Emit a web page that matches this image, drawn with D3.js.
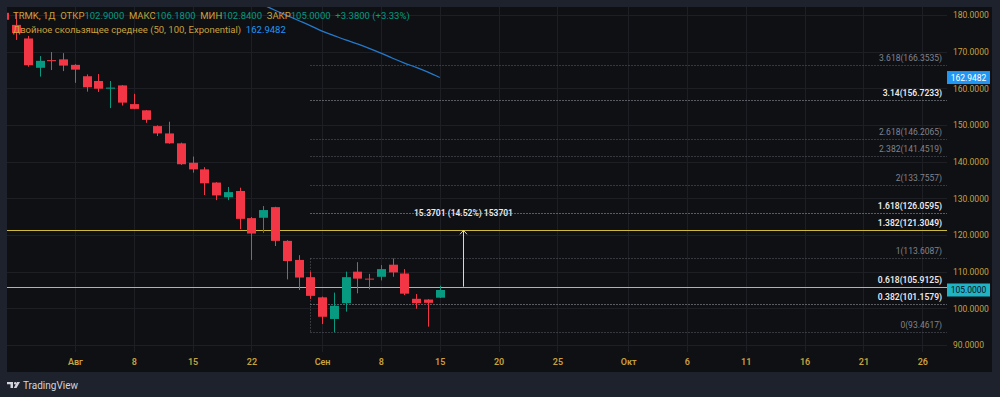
<!DOCTYPE html>
<meta charset="utf-8">
<style>
body { margin: 0; background: #1e222d; }
svg { display: block; }
text { font-family: Roboto, "Liberation Sans", sans-serif; }
</style>
<svg width="1000" height="397"></svg>
<script src="https://d3js.org/d3.v7.min.js"></script>
<script>

// daily candles, TRMK
var dates = ["2025-07-24","2025-07-25","2025-07-28","2025-07-29","2025-07-30","2025-07-31",
  "2025-08-01","2025-08-04","2025-08-05","2025-08-06","2025-08-07","2025-08-08",
  "2025-08-11","2025-08-12","2025-08-13","2025-08-14","2025-08-15",
  "2025-08-18","2025-08-19","2025-08-20","2025-08-21","2025-08-22",
  "2025-08-25","2025-08-26","2025-08-27","2025-08-28","2025-08-29",
  "2025-09-01","2025-09-02","2025-09-03","2025-09-04","2025-09-05",
  "2025-09-08","2025-09-09","2025-09-10","2025-09-11","2025-09-12","2025-09-15"];
var open  = [180.6,177.3,173.6,165.6,167.7,167.9,166.4,163.3,162.0,159.9,160.8,155.7,154.0,149.7,147.7,145.0,139.7,137.9,134.3,130.3,132.0,124.6,124.7,127.6,118.4,113.2,108.5,103.0,97.1,101.4,110.0,108.1,108.6,111.9,109.5,102.6,102.4,102.9];
var high  = [181.5,180.5,174.3,168.8,169.9,169.6,166.6,163.8,163.9,162.0,160.9,158.5,154.1,149.9,150.9,145.2,141.4,138.5,134.4,133.1,132.9,124.9,127.9,127.7,118.6,114.5,110.0,103.2,104.3,110.0,112.6,109.4,111.8,113.6087,110.7,103.9,102.5,106.18];
var low   = [178.2,173.2,165.9,163.2,165.0,164.7,161.5,159.1,159.0,154.6,155.3,154.3,150.6,147.0,144.9,139.1,137.0,130.9,129.5,129.5,121.6,113.2,120.6,117.0,107.9,105.0,102.6,95.7,93.4617,99.1,104.1,105.2,107.6,108.6,103.6,99.9,95.0,102.84];
var close = [178.7,175.1,166.3,167.5,167.4,166.2,165.1,160.3,159.9,160.2,156.1,154.4,151.4,147.7,145.0,139.3,137.9,134.1,130.8,131.7,124.4,120.4,126.8,118.4,112.9,108.4,103.4,97.7,100.7,108.5,108.1,107.9,110.7,109.8,104.0,101.4,101.5,105.0];

// double EMA (50, 100)
var demaDates = ["2025-08-22","2025-08-25","2025-08-26","2025-08-27","2025-08-28","2025-08-29",
  "2025-09-01","2025-09-02","2025-09-03","2025-09-04","2025-09-05",
  "2025-09-08","2025-09-09","2025-09-10","2025-09-11","2025-09-12","2025-09-15"];
var demaValues = [184.3,182.8,181.3,179.9,178.5,177.1,175.6,174.4,173.2,172.1,170.9,169.6,168.2,166.9,165.7,164.4,162.9482];

// fibonacci extension
var fibLevels = ["0","0.382","0.618","1","1.382","1.618","2","2.382","2.618","3.14","3.618"];
var fibPrices = [93.4617,101.1579,105.9125,113.6087,121.3049,126.0595,133.7557,141.4519,146.2065,156.7233,166.3535];
var fibBright = [false,true,true,false,true,true,false,false,false,true,false];
var fibStart = "2025-08-29";

// horizontal lines + price range
var hLines = [121.3049, 105.9125];
var rangeDate = "2025-09-17";
var rangeFrom = 105.9125, rangeTo = 121.2826;
var rangeText = "15.3701 (14.52%) 153701";

var yTicks = [90,100,110,120,130,140,150,160,170,180];
var xTickDates = ["2025-08-01","2025-08-08","2025-08-15","2025-08-22","2025-09-01","2025-09-08","2025-09-15",
  "2025-09-20","2025-09-25","2025-10-01","2025-10-06","2025-10-11","2025-10-16","2025-10-21","2025-10-26"];
var xTickLabels = ["Авг","8","15","22","Сен","8","15","20","25","Окт","6","11","16","21","26"];

var svg = d3.select("svg");
var plotL = 7, plotR = 947, plotT = 7, plotB = 352, panelR = 992, panelB = 372;

// bar slots: trading days so far, then calendar days ahead
var fmt = d3.timeFormat("%Y-%m-%d");
var future = d3.timeDay.range(new Date(2025, 8, 16), new Date(2025, 9, 30)).map(fmt);
var slots = dates.concat(future);
var slotIndex = {};
slots.forEach(function(d, i) { slotIndex[d] = i; });

var x = d3.scaleLinear().domain([0.23, 80.1]).range([plotL, plotR]);
var xd = function(d) { return x(slotIndex[d]); };
var y = d3.scaleLinear().domain([90, 180]).range([345, 15]);

var C_UP = "#089981", C_DN = "#f23645", GOLD = "#c9a13d", GRID = "#1d1f25";

svg.append("rect").attr("width", 1000).attr("height", 397).attr("fill", "#1e222d");
svg.append("rect").attr("x", plotL).attr("y", plotT)
    .attr("width", panelR - plotL).attr("height", panelB - plotT).attr("fill", "#0f1014");

svg.append("clipPath").attr("id", "clip").append("rect")
    .attr("x", plotL).attr("y", plotT).attr("width", plotR - plotL).attr("height", plotB - plotT);

// grid
var grid = svg.append("g");
grid.selectAll(".gy").data(yTicks).enter().append("line")
    .attr("x1", plotL).attr("x2", plotR)
    .attr("y1", function(d) { return Math.round(y(d)) + 0.5; })
    .attr("y2", function(d) { return Math.round(y(d)) + 0.5; })
    .attr("stroke", GRID);
grid.selectAll(".gx").data(xTickDates).enter().append("line")
    .attr("y1", plotT).attr("y2", plotB)
    .attr("x1", function(d) { return Math.round(xd(d)) + 0.5; })
    .attr("x2", function(d) { return Math.round(xd(d)) + 0.5; })
    .attr("stroke", GRID);

var plot = svg.append("g").attr("clip-path", "url(#clip)");

// fib lines
var fx0 = Math.round(xd(fibStart)) + 0.5;
plot.append("line")
    .attr("x1", fx0).attr("x2", fx0)
    .attr("y1", y(fibPrices[3])).attr("y2", y(fibPrices[0]))
    .attr("stroke", "#5d6069").attr("stroke-dasharray", "1,2");
plot.selectAll(".fib").data(fibPrices).enter().append("line")
    .attr("x1", fx0).attr("x2", plotR)
    .attr("y1", function(d) { return Math.round(y(d)) + 0.5; })
    .attr("y2", function(d) { return Math.round(y(d)) + 0.5; })
    .attr("stroke", function(d, i) { return fibBright[i] ? "#a4a7b0" : "#5d6069"; })
    .attr("stroke-dasharray", "1,2");

// yellow horizontal lines
plot.selectAll(".hl").data(hLines).enter().append("line")
    .attr("x1", plotL).attr("x2", plotR)
    .attr("y1", function(d) { return Math.round(y(d)) + 0.5; })
    .attr("y2", function(d) { return Math.round(y(d)) + 0.5; })
    .attr("stroke", "#cdb93c").attr("stroke-width", 1.2);

// dema
var line = d3.line()
    .x(function(d, i) { return xd(demaDates[i]); })
    .y(function(d) { return y(d); })
    .curve(d3.curveMonotoneX);
plot.append("path").datum(demaValues)
    .attr("d", line).attr("fill", "none")
    .attr("stroke", "#2479cc").attr("stroke-width", 1.3);

// candles
var bw = 9;
var candle = plot.selectAll(".c").data(dates).enter().append("g");
candle.append("line")
    .attr("x1", function(d) { return Math.round(xd(d)) + 0.5; })
    .attr("x2", function(d) { return Math.round(xd(d)) + 0.5; })
    .attr("y1", function(d, i) { return y(high[i]); })
    .attr("y2", function(d, i) { return y(low[i]); })
    .attr("stroke", function(d, i) { return close[i] >= open[i] ? C_UP : C_DN; });
candle.append("rect")
    .attr("x", function(d) { return Math.round(xd(d)) + 0.5 - bw / 2; })
    .attr("width", bw)
    .attr("y", function(d, i) { return y(Math.max(open[i], close[i])); })
    .attr("height", function(d, i) { return Math.max(1, Math.abs(y(open[i]) - y(close[i]))); })
    .attr("fill", function(d, i) { return close[i] >= open[i] ? C_UP : C_DN; });

// price range arrow
var rx = Math.round(xd(rangeDate)) + 0.5;
plot.append("line").attr("x1", rx).attr("x2", rx)
    .attr("y1", y(rangeFrom)).attr("y2", y(rangeTo))
    .attr("stroke", "#e6dc9a").attr("stroke-width", 1);
plot.append("path")
    .attr("d", "M" + (rx - 3.5) + "," + (y(rangeTo) + 4) + "L" + rx + "," + y(rangeTo) + "L" + (rx + 3.5) + "," + (y(rangeTo) + 4))
    .attr("fill", "none").attr("stroke", "#e6dc9a");
svg.append("text").attr("x", rx).attr("y", y(rangeTo) - 14)
    .attr("text-anchor", "middle").attr("fill", "#e8e9ec")
    .attr("font-size", 8.5).attr("font-weight", 600).text(rangeText);

// fib labels
svg.selectAll(".fl").data(fibPrices).enter().append("text")
    .attr("x", 942)
    .attr("y", function(d) { return y(d) - 4; })
    .attr("text-anchor", "end")
    .attr("font-size", 8.5)
    .attr("font-weight", function(d, i) { return fibBright[i] ? 600 : 400; })
    .attr("fill", function(d, i) { return fibBright[i] ? "#e8e9ec" : "#80838c"; })
    .text(function(d, i) { return fibLevels[i] + "(" + d3.format(".4f")(d) + ")"; });

// y axis
var yAxis = svg.append("g").attr("transform", "translate(" + plotR + ",0)")
    .call(d3.axisRight(y).tickValues(yTicks).tickFormat(d3.format(".4f")).tickSize(0).tickPadding(6));
yAxis.select(".domain").remove();
yAxis.selectAll("text").attr("fill", GOLD).attr("font-size", 8.5).attr("font-family", "Roboto, sans-serif");

// price badges
var badges = [
  {v: demaValues[demaValues.length - 1], bg: "#2196f3", fg: "#ffffff"},
  {v: close[close.length - 1], bg: "#1fb3c6", fg: "#0f1014"}
];
var badge = svg.selectAll(".bd").data(badges).enter().append("g")
    .attr("transform", function(d) { return "translate(" + plotR + "," + y(d.v) + ")"; });
badge.append("rect").attr("x", 0).attr("y", -6.5).attr("width", 43).attr("height", 13)
    .attr("fill", function(d) { return d.bg; });
badge.append("text").attr("x", 21.5).attr("dy", "0.35em").attr("font-size", 8.5)
    .attr("text-anchor", "middle")
    .attr("fill", function(d) { return d.fg; })
    .text(function(d) { return d3.format(".4f")(d.v); });

// x axis
var xAxis = svg.append("g").attr("transform", "translate(0," + plotB + ")")
    .call(d3.axisBottom(x)
      .tickValues(xTickDates.map(function(d) { return slotIndex[d]; }))
      .tickFormat(function(d, i) { return xTickLabels[i]; })
      .tickSize(0).tickPadding(7));
xAxis.select(".domain").remove();
xAxis.selectAll("text").attr("fill", GOLD).attr("font-size", 9).attr("font-weight", 600)
    .attr("font-family", "Roboto, sans-serif");

// legend
var lg = svg.append("text").attr("x", 13).attr("y", 19).attr("font-size", 9.5).attr("xml:space", "preserve");
[["TRMK, 1Д  ОТКР", GOLD], [d3.format(".4f")(open[open.length - 1]), C_UP],
 ["  МАКС", GOLD], [d3.format(".4f")(high[high.length - 1]), C_UP],
 ["  МИН", GOLD], [d3.format(".4f")(low[low.length - 1]), C_UP],
 ["  ЗАКР", GOLD], [d3.format(".4f")(close[close.length - 1]) + "  +3.3800 (+3.33%)", C_UP]]
  .forEach(function(p) {
    lg.append("tspan").attr("fill", p[1]).text(p[0]);
  });
var lg2 = svg.append("text").attr("x", 13).attr("y", 33).attr("font-size", 9.5).attr("xml:space", "preserve");
lg2.append("tspan").attr("fill", GOLD).text("Двойное скользящее среднее (50, 100, Exponential)  ");
lg2.append("tspan").attr("fill", "#2196f3").text(d3.format(".4f")(demaValues[demaValues.length - 1]));

// tradingview mark
var logo = svg.append("g").attr("transform", "translate(7,382)").attr("fill", "#d1d4dc");
logo.append("path").attr("d", "M0,0H6V6H3.5V2.2H0Z");
logo.append("circle").attr("cx", 8.2).attr("cy", 1.2).attr("r", 1.2);
logo.append("path").attr("d", "M10,0H13L9.5,6H6.8Z");
svg.append("text").attr("x", 23).attr("y", 388.5).attr("font-size", 10)
    .attr("fill", "#d1d4dc").text("TradingView");

</script>
